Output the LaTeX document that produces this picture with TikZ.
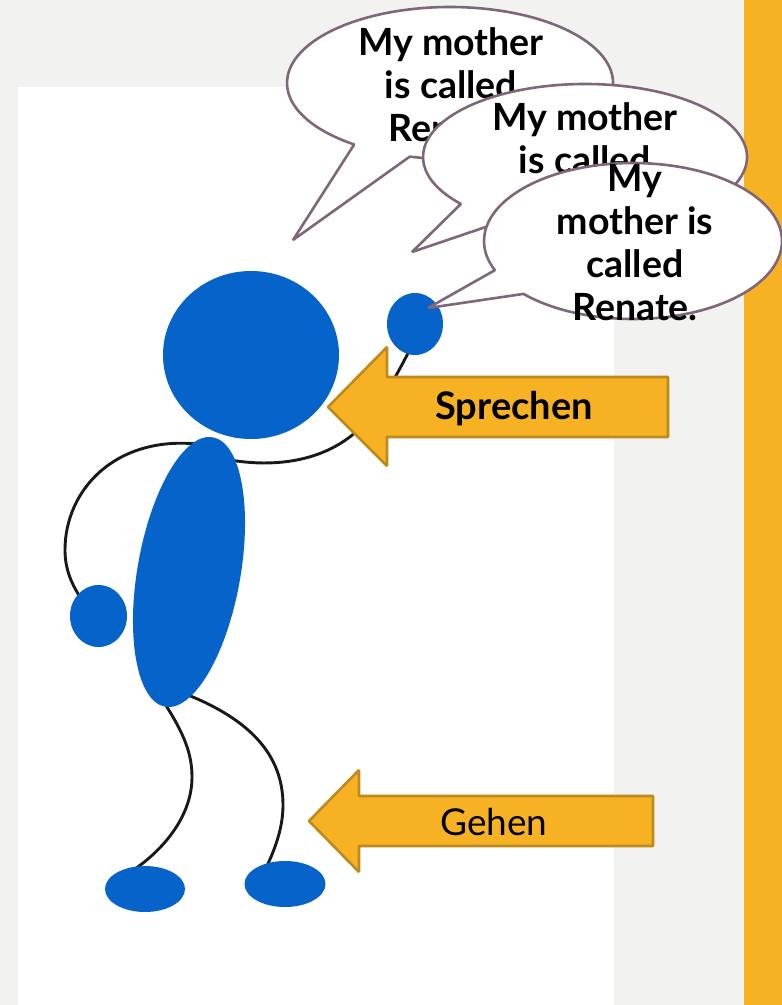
\documentclass[tikz,border=0pt]{standalone}
\usepackage{fontspec}
\setmainfont{Lato}
\usetikzlibrary{calc,shapes.geometric}
\definecolor{pagegrey}{HTML}{F2F2F0}
\definecolor{amber}{HTML}{F7B223}
\definecolor{amberline}{HTML}{BE8A1E}
\definecolor{figblue}{HTML}{0563C9}
\definecolor{bubbleline}{HTML}{80667A}
\tikzset{
  x=1pt,y=1pt,
  bodypart/.style={ellipse,fill=figblue,draw=none,inner sep=0pt},
  limb/.style={draw=black!90,line width=2.9pt,line cap=round},
  bubble/.style={fill=white,draw=bubbleline,line width=2.6pt,line join=bevel},
  bubbletext/.style={font=\fontsize{37.5}{43}\selectfont\bfseries,align=center,text=black,inner sep=0pt},
  pointer/.style={fill=amber,draw=amberline,line width=2.6pt,line join=bevel},
  pointertext/.style={font=\fontsize{37}{40}\selectfont,text=black,inner sep=0pt}
}
% a speech balloon: centre, radii, angles where the tail leaves the outline, tail tip
\newcommand{\balloon}[7]{%
  \path[bubble] ($(#1,#2)+(#5:#3 and #4)$)
    arc[start angle=#5,end angle=#6+360,x radius=#3,y radius=#4] -- #7 -- cycle;}
\begin{document}
\begin{tikzpicture}
\useasboundingbox (0,-1005) rectangle (782,0);
\clip (0,-1005) rectangle (782,0);
% page
\fill[pagegrey] (0,-1005) rectangle (782,0);
\fill[white] (18,-1005) rectangle (614,-87);
\fill[amber] (744,-1005) rectangle (782,0);

% limb routing points
\coordinate (shoulderL) at (197,-444);
\coordinate (elbowL) at (65,-550);
\coordinate (wristL) at (82,-600);
\coordinate (shoulderR) at (230,-460);
\coordinate (elbowR) at (375,-410);
\coordinate (wristR) at (412,-345);
\coordinate (hipL) at (165,-704);
\coordinate (kneeL) at (192,-777);
\coordinate (ankleL) at (135,-869);
\coordinate (hipR) at (188,-695);
\coordinate (kneeR) at (283,-805);
\coordinate (ankleR) at (266,-868);

% limbs
\draw[limb] (shoulderL) .. controls (115,-436) and (65,-490) .. (elbowL)
  .. controls (65,-570) and (72,-585) .. (wristL);
\draw[limb] (shoulderR) .. controls (290,-470) and (345,-455) .. (elbowR)
  .. controls (385,-395) and (400,-370) .. (wristR);
\draw[limb] (hipL) .. controls (185,-735) and (192,-755) .. (kneeL)
  .. controls (192,-815) and (165,-848) .. (ankleL);
\draw[limb] (hipR) .. controls (250,-720) and (283,-755) .. (kneeR)
  .. controls (283,-825) and (277,-845) .. (ankleR);

% figure
\node[bodypart,minimum width=176,minimum height=168] (head) at (251,-355) {};
\node[bodypart,minimum width=56,minimum height=62] (handR) at (415,-324) {};
\node[bodypart,minimum width=103,minimum height=273.6,rotate=-10] (torso) at (189,-572) {};
\node[bodypart,minimum width=57,minimum height=62] (handL) at (98.5,-616) {};
\node[bodypart,minimum width=80,minimum height=46] (footL) at (145,-889) {};
\node[bodypart,minimum width=81,minimum height=46] (footR) at (285,-884) {};

% pointers
\path[pointer] (668,-377) -- (387,-377) -- (387,-347) -- (328,-407) -- (387,-466) -- (387,-437) -- (668,-437) -- cycle;
\node[pointertext,font=\fontsize{38}{40}\selectfont\bfseries] (speak) at (514,-409) {Sprechen};
\path[pointer] (653,-796) -- (359,-796) -- (359,-770) -- (309,-821) -- (359,-872) -- (359,-846) -- (653,-846) -- cycle;
\node[pointertext] (walk) at (494,-822) {Gehen};

% balloons, back to front
\balloon{450}{-83}{163}{76}{255.7}{234}{(293,-240)}
\node[bubbletext] (say1) at (451,-85) {My mother\\is called\\Renate.};
\balloon{585}{-157}{162}{73}{240.4}{220}{(412,-252)}
\node[bubbletext] (say2) at (585,-160) {My mother\\is called\\Renate.};
\balloon{633}{-241}{149}{78}{222.7}{202}{(428,-308)}
\node[bubbletext] (say3) at (635,-243) {My\\mother is\\called\\Renate.};
\end{tikzpicture}
\end{document}
